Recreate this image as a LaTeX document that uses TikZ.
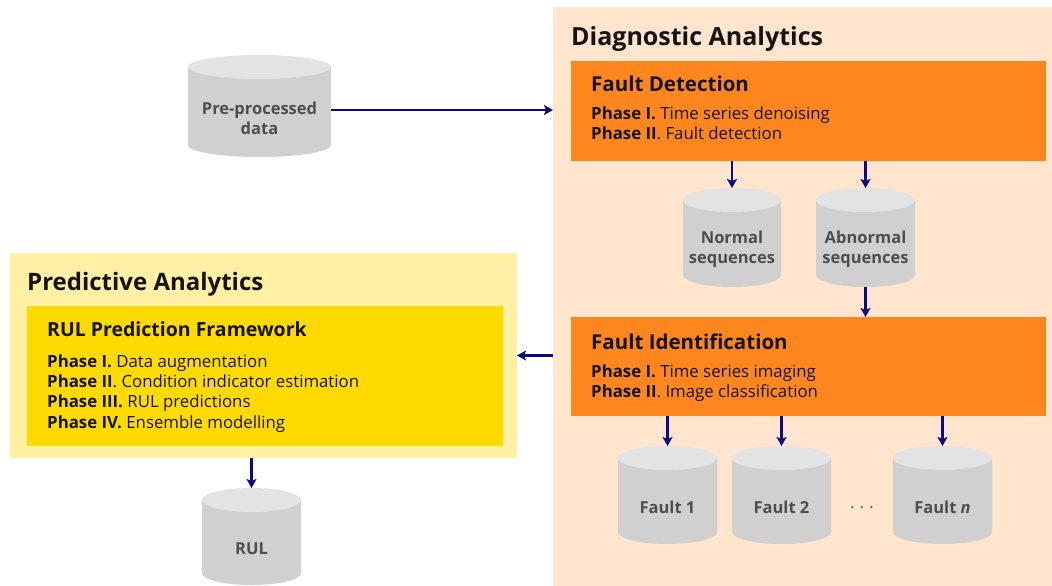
\documentclass[tikz,border=0pt]{standalone}
\usepackage{fontspec}
\setmainfont{Open Sans}
\usetikzlibrary{arrows.meta}

\definecolor{diagbg}{HTML}{FFE4CE}
\definecolor{faultbox}{HTML}{FD861E}
\definecolor{predbg}{HTML}{FFF0A3}
\definecolor{predbox}{HTML}{FFDA00}
\definecolor{flowblue}{HTML}{0A0A85}
\definecolor{storeside}{HTML}{D1D0D1}
\definecolor{storecap}{HTML}{E3E3E3}
\definecolor{storeink}{HTML}{4D4D4D}
\definecolor{ink}{HTML}{141414}

% cylinder-shaped data store: name, left x, top y, width, height, label
\newcommand\datastore[6]{%
  \node[store, minimum width=#4, minimum height=#5, anchor=north west] (#1) at (#2,#3) {};
  \fill[storeside] ([yshift=-12pt]#1.north west) -- ([yshift=12pt]#1.south west)
    arc[start angle=180, end angle=360, x radius={#4/2*1pt}, y radius=12pt]
    -- ([yshift=-12pt]#1.north east) -- cycle;
  \fill[storecap] ([yshift=-12pt]#1.north) ellipse[x radius={#4/2*1pt}, y radius=12pt];
  \node[storetext] (#1-label) at ([yshift=-12pt]#1.center) {#6};
}

\begin{document}
\begin{tikzpicture}[x=1pt, y=-1pt,
  panel/.style={rectangle, inner sep=0pt, outer sep=0pt},
  store/.style={rectangle, inner sep=0pt, outer sep=0pt},
  storetext/.style={text=storeink, align=center, inner sep=0pt,
    font=\fontsize{16.5}{20}\selectfont\bfseries},
  bigtitle/.style={anchor=base west, inner sep=0pt, text=ink,
    font=\fontsize{25}{30}\selectfont\bfseries},
  predtitle/.style={anchor=base west, inner sep=0pt, text=ink,
    font=\fontsize{24}{29}\selectfont\bfseries},
  boxtitle/.style={anchor=base west, inner sep=0pt, text=ink,
    font=\fontsize{20.5}{25}\selectfont\bfseries},
  phase/.style={anchor=base west, inner sep=0pt, text=ink,
    font=\fontsize{16.8}{20}\selectfont},
  flow/.style={draw=flowblue, line width=2.6pt,
    -{Stealth[length=9pt, width=10pt, inset=2pt]}}
]
\useasboundingbox (0,0) rectangle (1052,586);

% background panels
\node[panel, fill=diagbg, minimum width=499, minimum height=579, anchor=north west] (diag) at (553,7) {};
\node[panel, fill=predbg, minimum width=507, minimum height=205, anchor=north west] (pred) at (10,253) {};
\node[panel, fill=predbox, minimum width=476, minimum height=140, anchor=north west] (rul-box) at (27,306) {};
\node[panel, fill=faultbox, minimum width=475, minimum height=100, anchor=north west] (fd) at (571,61) {};
\node[panel, fill=faultbox, minimum width=475, minimum height=99, anchor=north west] (fi) at (571,317) {};

% headings and phase lists
\node[bigtitle] (diag-title) at (571,46) {Diagnostic Analytics};
\node[boxtitle] (fd-title) at (591,92) {Fault Detection};
\node[phase] (fd-p1) at (591,119) {\textbf{Phase I.} Time series denoising};
\node[phase] (fd-p2) at (591,139) {\textbf{Phase II}. Fault detection};

\node[boxtitle] (fi-title) at (591,349) {Fault Identification};
\node[phase] (fi-p1) at (591,377) {\textbf{Phase I.} Time series imaging};
\node[phase] (fi-p2) at (591,397) {\textbf{Phase II}. Image classification};

\node[predtitle] (pred-title) at (27,290) {Predictive Analytics};
\node[boxtitle, font=\fontsize{19.5}{24}\selectfont\bfseries] (rul-title) at (47,336) {RUL Prediction Framework};
\node[phase] (rul-p1) at (47,367) {\textbf{Phase I.} Data augmentation};
\node[phase] (rul-p2) at (47,387) {\textbf{Phase II}. Condition indicator estimation};
\node[phase] (rul-p3) at (47,407) {\textbf{Phase III.} RUL predictions};
\node[phase] (rul-p4) at (47,428) {\textbf{Phase IV.} Ensemble modelling};

% data stores
\datastore{pre}{188}{55}{143}{102}{Pre-processed\\data}
\datastore{normal}{683}{188}{98}{99}{Normal\\sequences}
\datastore{abnormal}{816}{188}{99}{99}{Abnormal\\sequences}
\datastore{fault1}{618}{446}{99}{98}{Fault 1}
\datastore{fault2}{732}{446}{99}{98}{Fault 2}
\datastore{faultn}{893}{446}{99}{98}{Fault \textit{n}}
\datastore{rul}{202}{488}{99}{97}{RUL}

\node[text=storeink, inner sep=0pt, font=\fontsize{16}{20}\selectfont] (dots) at (862,508) {.\,\,.\,\,.};

% connectors
\draw[flow] ([yshift=-4pt]pre.east) -- ([yshift=-4pt]pre.east -| diag.west);
\draw[flow] (fd.south -| normal.north) -- (normal.north);
\draw[flow] (fd.south -| abnormal.north) -- (abnormal.north);
\draw[flow] (abnormal.south) -- (abnormal.south |- fi.north);
\draw[flow] (fi.south -| fault1.north) -- (fault1.north);
\draw[flow] (fi.south -| fault2.north) -- (fault2.north);
\draw[flow] (fi.south -| faultn.north) -- (faultn.north);
\draw[flow] (diag.west |- pred.east) -- (pred.east);
\draw[flow] (pred.south -| rul.north) -- (rul.north);
\end{tikzpicture}
\end{document}
